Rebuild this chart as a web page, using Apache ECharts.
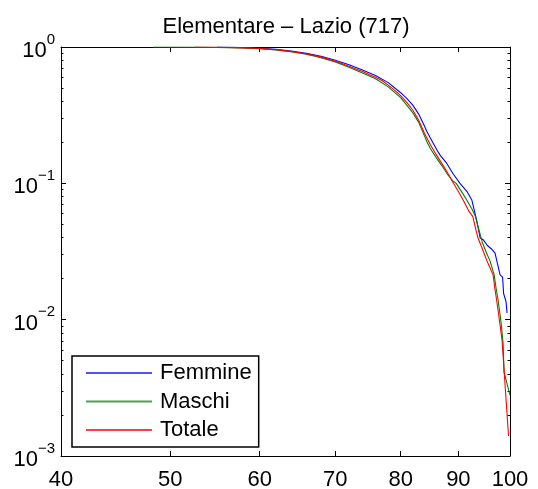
<!DOCTYPE html>
<html>
<head>
<meta charset="utf-8">
<script src="https://cdn.jsdelivr.net/npm/echarts@6/dist/echarts.min.js"></script>
<style>html,body{margin:0;padding:0;background:#fff;}#c{width:538px;height:489px;}</style>
</head>
<body>
<div id="c"></div>
<script>
const titleText = 'Elementare \u2013 Lazio (717)';
const seriesNames = ['Femmine', 'Maschi', 'Totale'];
const xTicks = [40, 50, 60, 70, 80, 90, 100];
const yTicks = [0.001, 0.01, 0.1, 1];
const yMinorTicks = [0.002,0.003,0.004,0.005,0.006,0.007,0.008,0.009,0.02,0.03,0.04,0.05,0.06,0.07,0.08,0.09,0.2,0.3,0.4,0.5,0.6,0.7,0.8,0.9];

const femX = [55, 57, 60, 62, 64, 66, 68, 70, 72, 74, 76, 78, 80, 81, 82, 83, 84, 84.4, 85, 86.1, 86.7, 87.9, 89, 90.3, 91.6, 92.5, 93.4, 94.1, 94.7, 95.5, 96.3, 97.0, 97.3, 98.0, 98.5, 98.7, 99.2, 99.4];
const femY = [1, 0.996, 0.98, 0.962, 0.934, 0.899, 0.855, 0.8, 0.74, 0.678, 0.618, 0.548, 0.462, 0.42, 0.375, 0.322, 0.262, 0.24, 0.215, 0.177, 0.161, 0.14, 0.118, 0.1, 0.087, 0.0755, 0.054, 0.0397, 0.0385, 0.035, 0.033, 0.0308, 0.0274, 0.0213, 0.0205, 0.0156, 0.0135, 0.0112];

const masX = [48.3, 52, 55, 58, 60, 62, 64, 66, 68, 70, 72, 74, 76, 78, 80, 82, 83, 84, 84.4, 85, 86, 87, 88, 89, 89.6, 90.5, 91.5, 92.5, 93.2, 93.9, 94.5, 95.3, 96.0, 96.8, 97.2, 97.6, 98.2, 98.6, 98.8, 100];
const masY = [1, 0.998, 0.993, 0.983, 0.972, 0.952, 0.922, 0.885, 0.835, 0.775, 0.71, 0.645, 0.585, 0.51, 0.425, 0.33, 0.28, 0.222, 0.202, 0.18, 0.155, 0.135, 0.117, 0.104, 0.1, 0.088, 0.076, 0.065, 0.057, 0.045, 0.037, 0.031, 0.027, 0.0215, 0.017, 0.014, 0.0095, 0.0067, 0.0041, 0.0028];

const totX = [52.5, 55, 57, 59, 60, 61, 62, 63, 64, 65, 66, 67, 68, 69, 70, 71, 72, 73, 74, 75, 76, 77, 78, 79, 80, 81, 82, 83, 84, 85, 86, 87, 88, 89, 90, 91, 92, 92.7, 93.2, 93.7, 94.4, 95.4, 96.0, 96.6, 97.0, 97.3, 97.7, 98.4, 99.7];
const totY = [1, 0.995, 0.99, 0.982, 0.975, 0.965, 0.955, 0.94, 0.925, 0.908, 0.89, 0.868, 0.843, 0.815, 0.785, 0.755, 0.722, 0.69, 0.66, 0.628, 0.6, 0.568, 0.525, 0.483, 0.44, 0.392, 0.345, 0.29, 0.232, 0.192, 0.163, 0.14, 0.12, 0.102, 0.087, 0.074, 0.062, 0.057, 0.047, 0.0395, 0.034, 0.027, 0.024, 0.0213, 0.0165, 0.014, 0.011, 0.007, 0.0014];

const colors = ['#0000ff', '#008000', '#ff0000'];
const legendColors = ['#5050ff', '#50a050', '#ff4040'];
const FONT = '"Liberation Sans", Arial, Helvetica, sans-serif';

function zip(xs, ys) { return xs.map((x, i) => [x, ys[i]]); }
const seriesData = [zip(femX, femY), zip(masX, masY), zip(totX, totY)];

const chart = echarts.init(document.getElementById('c'), null, {renderer: 'canvas'});
const grid = {left: 61, right: 28, top: 47, bottom: 33, outerBoundsMode: 'none', containLabel: false};

function logAxisBase(extra) {
  return Object.assign({
    type: 'log', logBase: 10,
    splitLine: {show: false},
    axisLine: {show: true, lineStyle: {color: '#000', width: 1}},
    axisLabel: {show: false},
  }, extra);
}

const option = {
  animation: false,
  backgroundColor: '#fff',
  title: {
    text: titleText, left: 286, top: 16, textAlign: 'center', padding: 0,
    textStyle: {fontFamily: FONT, fontSize: 22, fontWeight: 'normal', color: '#000'}
  },
  legend: {
    data: seriesNames.map((n, i) => ({name: n, icon: 'rect', itemStyle: {color: legendColors[i]}})),
    orient: 'vertical', left: 72, top: 356,
    padding: [6, 7, 6, 14], itemWidth: 66, itemHeight: 2, itemGap: 6.5,
    borderColor: '#000', borderWidth: 1.5, backgroundColor: '#fff',
    textStyle: {fontFamily: FONT, fontSize: 22, lineHeight: 22, color: '#000', padding: [0, 0, 0, 3]}
  },
  grid: grid,
  xAxis: [
    logAxisBase({position: 'bottom', min: 40, max: 100,
      axisTick: {show: true, inside: true, length: 5, customValues: xTicks, lineStyle: {color: '#000'}},
      axisLabel: {show: true, customValues: xTicks, margin: 13, fontFamily: FONT, fontSize: 22, color: '#000', formatter: v => String(Math.round(v))}
    }),
    logAxisBase({position: 'top', min: 40, max: 100,
      axisTick: {show: true, inside: true, length: 5, customValues: xTicks, lineStyle: {color: '#000'}}
    })
  ],
  yAxis: [
    logAxisBase({position: 'left', min: 0.001, max: 1,
      axisTick: {show: true, inside: true, length: 5, customValues: yTicks, lineStyle: {color: '#000'}},
      axisLabel: {show: true, customValues: yTicks, margin: 6,
        formatter: function (v) {
          const e = Math.round(Math.log10(v));
          return '{b|10}{e|' + (e < 0 ? '\u2212' + (-e) : String(e)) + '}';
        },
        rich: {
          b: {fontFamily: FONT, fontSize: 22, color: '#000', verticalAlign: 'bottom', lineHeight: 30},
          e: {fontFamily: FONT, fontSize: 15, color: '#000', verticalAlign: 'top', lineHeight: 15}
        }
      }
    }),
    logAxisBase({position: 'right', min: 0.001, max: 1,
      axisTick: {show: true, inside: true, length: 5, customValues: yTicks, lineStyle: {color: '#000'}}
    }),
    logAxisBase({position: 'left', min: 0.001, max: 1, axisLine: {show: false},
      axisTick: {show: true, inside: true, length: 2.5, customValues: yMinorTicks, lineStyle: {color: '#000'}}
    }),
    logAxisBase({position: 'right', min: 0.001, max: 1, axisLine: {show: false},
      axisTick: {show: true, inside: true, length: 2.5, customValues: yMinorTicks, lineStyle: {color: '#000'}}
    })
  ],
  series: seriesNames.map((name, i) => ({
    name: name, type: 'line', xAxisIndex: 0, yAxisIndex: 0,
    data: seriesData[i], showSymbol: false, symbol: 'none',
    lineStyle: {color: colors[i], width: 1.1}, itemStyle: {color: colors[i]},
    emphasis: {disabled: true}, z: 2 + i
  }))
};
chart.setOption(option);
</script>
</body>
</html>
